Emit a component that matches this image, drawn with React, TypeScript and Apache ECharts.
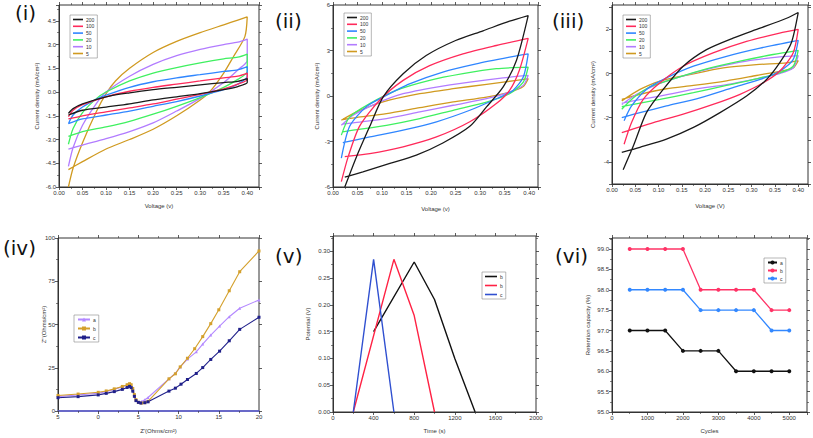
import React, { useEffect, useRef } from "react";
import * as echarts from "echarts";

// ---------- DATA ----------
const CV_NAMES = ["200", "100", "50", "20", "10", "5"];
const CV_COLORS = ["#1a1a1a", "#ff2a5a", "#2f86ff", "#3ff060", "#b27cff", "#d09a20"];

// Panel (i) CV loops [V, mA/cm2]
const cv1_200 = [[0.02,-1.35],[0.03,-1.05],[0.05,-0.75],[0.1,-0.3],[0.15,-0.05],[0.2,0.15],[0.25,0.3],[0.3,0.45],[0.35,0.6],[0.38,0.68],[0.4,0.85],[0.4,0.6],[0.38,0.35],[0.35,0.15],[0.3,-0.1],[0.25,-0.3],[0.2,-0.5],[0.15,-0.75],[0.1,-0.95],[0.05,-1.15],[0.02,-1.45]];
const cv1_100 = [[0.02,-1.55],[0.03,-1.15],[0.05,-0.8],[0.1,-0.3],[0.15,0.05],[0.2,0.3],[0.25,0.5],[0.3,0.7],[0.35,0.9],[0.38,1.0],[0.4,1.2],[0.4,0.8],[0.38,0.5],[0.35,0.2],[0.3,-0.15],[0.25,-0.45],[0.2,-0.75],[0.15,-1.0],[0.1,-1.25],[0.05,-1.5],[0.02,-1.7]];
const cv1_50 = [[0.02,-2.0],[0.03,-1.45],[0.05,-0.95],[0.08,-0.45],[0.1,-0.2],[0.15,0.3],[0.2,0.65],[0.25,0.9],[0.3,1.1],[0.35,1.3],[0.38,1.4],[0.4,1.6],[0.4,1.0],[0.38,0.5],[0.35,0.15],[0.3,-0.25],[0.25,-0.6],[0.2,-0.9],[0.15,-1.2],[0.1,-1.45],[0.05,-1.7],[0.02,-2.0]];
const cv1_20 = [[0.02,-3.3],[0.03,-2.3],[0.05,-1.3],[0.08,-0.4],[0.1,0.0],[0.15,0.7],[0.2,1.2],[0.25,1.55],[0.3,1.85],[0.35,2.1],[0.38,2.2],[0.4,2.4],[0.4,1.3],[0.38,0.8],[0.35,0.3],[0.3,-0.35],[0.25,-0.9],[0.2,-1.4],[0.15,-1.85],[0.1,-2.2],[0.05,-2.5],[0.02,-2.8]];
const cv1_10 = [[0.02,-4.7],[0.03,-3.5],[0.05,-2.1],[0.08,-0.7],[0.1,0.0],[0.15,1.0],[0.2,1.75],[0.25,2.3],[0.3,2.7],[0.35,3.0],[0.38,3.15],[0.4,3.35],[0.4,2.0],[0.38,1.4],[0.35,0.6],[0.3,-0.4],[0.25,-1.2],[0.2,-1.95],[0.15,-2.5],[0.1,-2.95],[0.05,-3.35],[0.02,-3.6]];
const cv1_5 = [[0.02,-6.0],[0.03,-4.8],[0.05,-3.2],[0.08,-1.2],[0.1,-0.1],[0.12,0.7],[0.15,1.5],[0.2,2.5],[0.25,3.2],[0.3,3.75],[0.35,4.25],[0.38,4.55],[0.4,4.75],[0.395,3.5],[0.37,2.2],[0.35,1.2],[0.32,0.0],[0.3,-0.5],[0.25,-1.5],[0.2,-2.35],[0.15,-3.0],[0.1,-3.6],[0.05,-4.4],[0.02,-4.9]];

// Panel (ii)
const cv2_200 = [[0.024,-6.0],[0.048,-4.0],[0.075,-2.0],[0.102,-0.07],[0.143,1.47],[0.19,2.67],[0.25,3.66],[0.306,4.3],[0.36,4.93],[0.398,5.3],[0.374,2.34],[0.347,0.6],[0.313,-0.72],[0.279,-2.0],[0.224,-3.1],[0.17,-3.9],[0.116,-4.45],[0.061,-5.0],[0.024,-5.35]];
const cv2_100 = [[0.017,-5.65],[0.031,-4.0],[0.054,-2.0],[0.095,-0.28],[0.143,1.03],[0.197,2.0],[0.265,2.78],[0.333,3.33],[0.398,3.8],[0.38,1.7],[0.36,0.37],[0.333,-0.5],[0.279,-1.7],[0.211,-2.7],[0.143,-3.35],[0.075,-3.8],[0.024,-4.0]];
const cv2_50 = [[0.017,-4.1],[0.034,-2.0],[0.068,-0.7],[0.102,-0.07],[0.156,0.8],[0.224,1.58],[0.292,2.12],[0.36,2.56],[0.398,2.78],[0.388,1.25],[0.367,0.37],[0.333,-0.18],[0.279,-0.94],[0.211,-1.7],[0.143,-2.25],[0.075,-2.7],[0.02,-3.08]];
const cv2_20 = [[0.017,-2.58],[0.034,-1.38],[0.075,-0.5],[0.129,0.37],[0.197,1.03],[0.265,1.47],[0.333,1.8],[0.398,1.9],[0.388,0.92],[0.36,0.15],[0.313,-0.4],[0.245,-0.94],[0.177,-1.49],[0.109,-1.93],[0.041,-2.25],[0.02,-2.36]];
const cv2_10 = [[0.017,-1.93],[0.041,-1.27],[0.088,-0.5],[0.143,0.15],[0.211,0.59],[0.279,0.92],[0.347,1.2],[0.398,1.36],[0.388,0.7],[0.36,0.26],[0.313,-0.18],[0.245,-0.61],[0.177,-1.05],[0.109,-1.49],[0.041,-1.77],[0.02,-1.86]];
const cv2_5 = [[0.017,-1.6],[0.048,-1.05],[0.102,-0.39],[0.177,0.15],[0.245,0.48],[0.313,0.77],[0.374,1.03],[0.398,1.14],[0.388,0.63],[0.36,0.26],[0.313,-0.07],[0.245,-0.39],[0.177,-0.77],[0.109,-1.16],[0.048,-1.42],[0.02,-1.55]];

// Panel (iii)
const cv3_200 = [[0.024,-4.35],[0.046,-3.27],[0.074,-1.77],[0.11,-0.72],[0.153,0.33],[0.203,1.08],[0.26,1.6],[0.318,2.05],[0.375,2.5],[0.4,2.76],[0.385,1.38],[0.36,0.48],[0.332,-0.27],[0.289,-1.02],[0.232,-1.77],[0.175,-2.44],[0.117,-2.97],[0.06,-3.34],[0.021,-3.57]];
const cv3_100 = [[0.026,-3.2],[0.042,-2.22],[0.067,-1.17],[0.103,-0.42],[0.153,0.33],[0.217,0.93],[0.289,1.45],[0.36,1.83],[0.4,2.0],[0.389,0.93],[0.36,0.1],[0.325,-0.42],[0.275,-0.94],[0.217,-1.4],[0.153,-1.84],[0.089,-2.22],[0.021,-2.67]];
const cv3_50 = [[0.026,-2.14],[0.042,-1.47],[0.074,-0.72],[0.117,-0.2],[0.175,0.33],[0.246,0.78],[0.318,1.15],[0.4,1.5],[0.389,0.63],[0.36,0.1],[0.318,-0.27],[0.26,-0.64],[0.189,-1.1],[0.117,-1.47],[0.06,-1.77],[0.021,-2.0]];
const cv3_20 = [[0.021,-1.62],[0.046,-1.1],[0.082,-0.6],[0.132,-0.24],[0.203,0.21],[0.275,0.56],[0.346,0.86],[0.4,1.05],[0.389,0.33],[0.36,0.03],[0.31,-0.24],[0.246,-0.54],[0.175,-0.87],[0.103,-1.17],[0.046,-1.4],[0.021,-1.5]];
const cv3_10 = [[0.021,-1.4],[0.053,-0.94],[0.096,-0.5],[0.146,-0.15],[0.217,0.25],[0.289,0.56],[0.36,0.75],[0.4,0.81],[0.389,0.25],[0.36,0.0],[0.31,-0.24],[0.246,-0.5],[0.175,-0.72],[0.103,-1.02],[0.046,-1.24],[0.021,-1.35]];
const cv3_5 = [[0.021,-1.24],[0.06,-0.72],[0.103,-0.34],[0.167,-0.05],[0.239,0.25],[0.31,0.4],[0.375,0.48],[0.4,0.58],[0.389,0.25],[0.36,0.1],[0.31,-0.09],[0.246,-0.33],[0.175,-0.54],[0.117,-0.69],[0.06,-0.94],[0.021,-1.17]];

// Panel (iv) impedance [Z', Z'']
const EIS_A = [[-5,8.3],[-2.5,9.3],[0,10.3],[1,11.2],[2,12.5],[3,14],[3.6,15],[3.9,15.4],[4.1,14.6],[4.3,12.5],[4.5,9],[4.7,6],[5,5],[5.4,5.5],[5.8,6.5],[6.2,7.8],[8.8,18.6],[9.6,21.8],[10.2,25.5],[11.1,30],[12.2,34.2],[13,38.7],[14,43.9],[15.1,49.1],[16.3,54.5],[17.6,59.4],[20,64.2]];
const EIS_B = [[-5,9],[-2.5,9.8],[0,10.8],[1,11.6],[2,12.8],[3,14.2],[3.6,15.2],[3.9,15.8],[4.1,15.2],[4.3,13],[4.5,9.5],[4.7,6.5],[5,5],[5.4,4.6],[5.8,4.8],[6.2,5.6],[8.8,18.6],[9.6,21.5],[10.2,25.5],[11.1,30.5],[12,36],[13,43],[14,50.5],[15,58.5],[16.3,69.5],[17.6,80.5],[20,92.5]];
const EIS_C = [[-5,7.7],[-2.5,8.3],[0,9.3],[1,10.2],[2,11.2],[3,12.5],[3.6,13.6],[3.9,14.2],[4.1,13.5],[4.3,11.5],[4.5,8.5],[4.7,6],[5,5],[5.3,4.6],[5.8,4.8],[6.2,5.3],[8.8,11.5],[9.6,13.2],[10.3,15.5],[11.1,18.2],[12.2,21.7],[13,25.1],[14,29.8],[15.1,34.6],[16.3,40.6],[17.6,47.2],[20,54.2]];

// Panel (v) charge-discharge [s, V]
const GCD_B1 = [[400,0.15],[800,0.28],[1000,0.21],[1200,0.1],[1400,0]];
const GCD_B2 = [[200,0],[600,0.285],[800,0.18],[1000,0]];
const GCD_C = [[200,0],[400,0.285],[600,0]];

// Panel (vi) retention
const CYCLES = [500,1000,1500,2000,2500,3000,3500,4000,4500,5000];
const RET_A = [97,97,97,96.5,96.5,96.5,96,96,96,96];
const RET_B = [99,99,99,99,98,98,98,98,97.5,97.5];
const RET_C = [98,98,98,98,97.5,97.5,97.5,97.5,97,97];

const PANEL_LABELS = ["(i)", "(ii)", "(iii)", "(iv)", "(v)", "(vi)"];

// ---------- OPTION BUILDERS ----------
const FONT = "'Liberation Sans', Arial, sans-serif";
const AX = "#333";

function axis(gi: number, o: any) {
  return {
    type: "value",
    gridIndex: gi,
    min: o.min,
    max: o.max,
    interval: o.interval,
    name: o.name,
    nameLocation: "middle",
    nameGap: o.gap,
    nameMoveOverlap: false,
    nameTextStyle: { fontSize: 6, color: AX, fontFamily: FONT },
    axisLine: { show: true, onZero: false, lineStyle: { color: o.lineColor || AX, width: o.lineWidth || 1 } },
    axisTick: { show: true, inside: false, length: 3, lineStyle: { color: AX, width: 0.8 } },
    minorTick: { show: o.minor !== false, splitNumber: 2, length: 2, lineStyle: { color: AX, width: 0.6 } },
    splitLine: { show: false },
    axisLabel: {
      fontSize: 6,
      color: AX,
      margin: 3,
      fontFamily: FONT,
      formatter: o.fmt,
      showMaxLabel: o.showMax === true ? true : false,
      showMinLabel: true,
    },
  };
}

function mirror(gi: number, o: any, position: string) {
  return {
    type: "value",
    gridIndex: gi,
    position,
    min: o.min,
    max: o.max,
    interval: o.interval,
    axisLine: { show: false, onZero: false },
    axisTick: { show: true, inside: false, length: 3, lineStyle: { color: AX, width: 0.8 } },
    minorTick: { show: o.minor !== false, splitNumber: 2, length: 2, lineStyle: { color: AX, width: 0.6 } },
    splitLine: { show: false },
    axisLabel: { show: false },
  };
}

function legend(names: string[], left: number, top: number, gap: number, w: number, plain: boolean) {
  return {
    data: names,
    orient: "vertical",
    left,
    top,
    icon: plain ? "rect" : undefined,
    itemWidth: w,
    itemHeight: plain ? 1.6 : 5,
    itemGap: gap,
    padding: [2, 3, 2, 3],
    borderColor: "#888",
    borderWidth: 0.6,
    backgroundColor: "#fff",
    selectedMode: false,
    formatter: (n: string) => n.trim(),
    textStyle: { fontSize: 5, color: AX, fontFamily: FONT, padding: [0, 0, 0, -2] },
  };
}

function cvSeries(gi: number, loops: number[][][]) {
  return loops.map((d, i) => ({
    type: "line",
    name: CV_NAMES[i],
    xAxisIndex: gi,
    yAxisIndex: gi,
    data: d,
    showSymbol: false,
    symbol: "none",
    smooth: 0.25,
    lineStyle: { width: 1.3, color: CV_COLORS[i] },
    itemStyle: { color: CV_COLORS[i] },
    z: 10 - i,
  }));
}

function buildOption() {
  const f2 = (v: number) => v.toFixed(2);
  const f1 = (v: number) => v.toFixed(1);
  const f0 = (v: number) => String(Math.round(v));

  const grids = [
    { left: 59, top: 5, width: 200, height: 182 },
    { left: 333, top: 5, width: 205, height: 182 },
    { left: 612, top: 5, width: 196, height: 179 },
    { left: 58, top: 238, width: 201, height: 173 },
    { left: 333, top: 236, width: 203, height: 176 },
    { left: 612, top: 238, width: 195, height: 174 },
  ].map((g) => ({ ...g, show: true, borderColor: AX, borderWidth: 1, containLabel: false }));

  const xCfg = [
    { min: 0, max: 0.425, interval: 0.05, name: "Voltage (v)", gap: 16, fmt: f2 },
    { min: 0, max: 0.418, interval: 0.05, name: "Voltage (v)", gap: 19, fmt: f2 },
    { min: 0, max: 0.421, interval: 0.05, name: "Voltage (V)", gap: 19, fmt: f2 },
    { min: -5, max: 20, interval: 5, name: "Z'(Ohms/cm²)", gap: 17, fmt: (v: number) => String(Math.abs(v)), showMax: true, lineColor: "#5a5ad8", lineWidth: 1.5 },
    { min: 0, max: 2000, interval: 400, name: "Time (s)", gap: 16, fmt: f0, showMax: true },
    { min: 0, max: 5500, interval: 1000, name: "Cycles", gap: 16, fmt: f0 },
  ];
  const yCfg = [
    { min: -6, max: 5.5, interval: 1.5, name: "Current density (mA/cm²)", gap: 19, fmt: f1 },
    { min: -6, max: 6, interval: 3, name: "Current density (mA/cm²)", gap: 13, fmt: f0, showMax: true },
    { min: -5, max: 3.1, interval: 1, name: "Current density (mA/cm²)", gap: 16, minor: false, fmt: (v: number) => (Math.round(v) % 2 === 0 ? f0(v) : "") },
    { min: 0, max: 100, interval: 25, name: "Z''(Ohms/cm²)", gap: 11, fmt: f0, showMax: true },
    { min: 0, max: 0.3285, interval: 0.05, name: "Potential (V)", gap: 22, fmt: f2 },
    { min: 95, max: 99.27, interval: 0.5, name: "Retention capacity (%)", gap: 21, fmt: f1 },
  ];

  const xAxis = [
    ...xCfg.map((c, i) => axis(i, c)),
    ...xCfg.map((c, i) => mirror(i, c, "top")),
  ];
  const yAxis = [
    ...yCfg.map((c, i) => axis(i, c)),
    ...yCfg.map((c, i) => mirror(i, c, "right")),
  ];

  const series: any[] = [
    ...cvSeries(0, [cv1_200, cv1_100, cv1_50, cv1_20, cv1_10, cv1_5]),
    ...cvSeries(1, [cv2_200, cv2_100, cv2_50, cv2_20, cv2_10, cv2_5]),
    ...cvSeries(2, [cv3_200, cv3_100, cv3_50, cv3_20, cv3_10, cv3_5]),
  ];

  const eis = [
    { name: "a", data: EIS_A, color: "#b388ff", symbol: "triangle" },
    { name: "b", data: EIS_B, color: "#d4a02c", symbol: "rect" },
    { name: "c", data: EIS_C, color: "#20208a", symbol: "rect" },
  ];
  eis.forEach((s) =>
    series.push({
      type: "line",
      name: s.name,
      xAxisIndex: 3,
      yAxisIndex: 3,
      data: s.data,
      symbol: s.symbol,
      symbolSize: 3,
      showSymbol: true,
      clip: false,
      lineStyle: { width: 1.1, color: s.color },
      itemStyle: { color: s.color },
    })
  );

  const gcd = [
    { name: "b ", data: GCD_B1, color: "#111111" },
    { name: "b  ", data: GCD_B2, color: "#ff2244" },
    { name: "c ", data: GCD_C, color: "#3050d0" },
  ];
  gcd.forEach((s) =>
    series.push({
      type: "line",
      name: s.name,
      xAxisIndex: 4,
      yAxisIndex: 4,
      data: s.data,
      symbol: "none",
      showSymbol: false,
      lineStyle: { width: 1.4, color: s.color },
      itemStyle: { color: s.color },
    })
  );

  const ret = [
    { name: "a ", vals: RET_A, color: "#111111" },
    { name: "b   ", vals: RET_B, color: "#ff3366" },
    { name: "c  ", vals: RET_C, color: "#3388ff" },
  ];
  ret.forEach((s) =>
    series.push({
      type: "line",
      name: s.name,
      xAxisIndex: 5,
      yAxisIndex: 5,
      data: CYCLES.map((c, i) => [c, s.vals[i]]),
      symbol: "circle",
      symbolSize: 4,
      showSymbol: true,
      lineStyle: { width: 1.3, color: s.color },
      itemStyle: { color: s.color },
    })
  );

  const legends = [
    legend(CV_NAMES, 70, 15, 1.8, 10, true),
    legend(CV_NAMES, 344, 13, 1.8, 10, true),
    legend(CV_NAMES, 623, 15, 1.8, 10, true),
    legend(["a", "b", "c"], 74, 315, 4, 12, false),
    legend(["b ", "b  ", "c "], 482, 272, 4, 12, true),
    legend(["a ", "b   ", "c  "], 764, 258, 3, 9, false),
  ];

  const labelPos = [
    [15, 3],
    [275, 11],
    [552, 11],
    [3, 238],
    [275, 246],
    [555, 246],
  ];
  const graphic = PANEL_LABELS.map((t, i) => ({
    type: "text",
    x: labelPos[i][0],
    y: labelPos[i][1],
    style: {
      text: t,
      fontSize: 20,
      fontFamily: "'DejaVu Sans', sans-serif",
      fill: "#111",
      verticalAlign: "top",
    },
  }));

  return {
    animation: false,
    backgroundColor: "#ffffff",
    textStyle: { fontFamily: FONT },
    grid: grids,
    xAxis,
    yAxis,
    legend: legends,
    series,
    graphic,
  };
}

export default function App() {
  const ref = useRef<HTMLDivElement>(null);
  useEffect(() => {
    if (!ref.current) return;
    const chart = echarts.init(ref.current, undefined, { renderer: "svg" });
    chart.setOption(buildOption() as any);
    return () => chart.dispose();
  }, []);
  return (
    <div
      ref={ref}
      style={{ position: "fixed", left: 0, top: 0, width: 813, height: 438, background: "#fff" }}
    />
  );
}
